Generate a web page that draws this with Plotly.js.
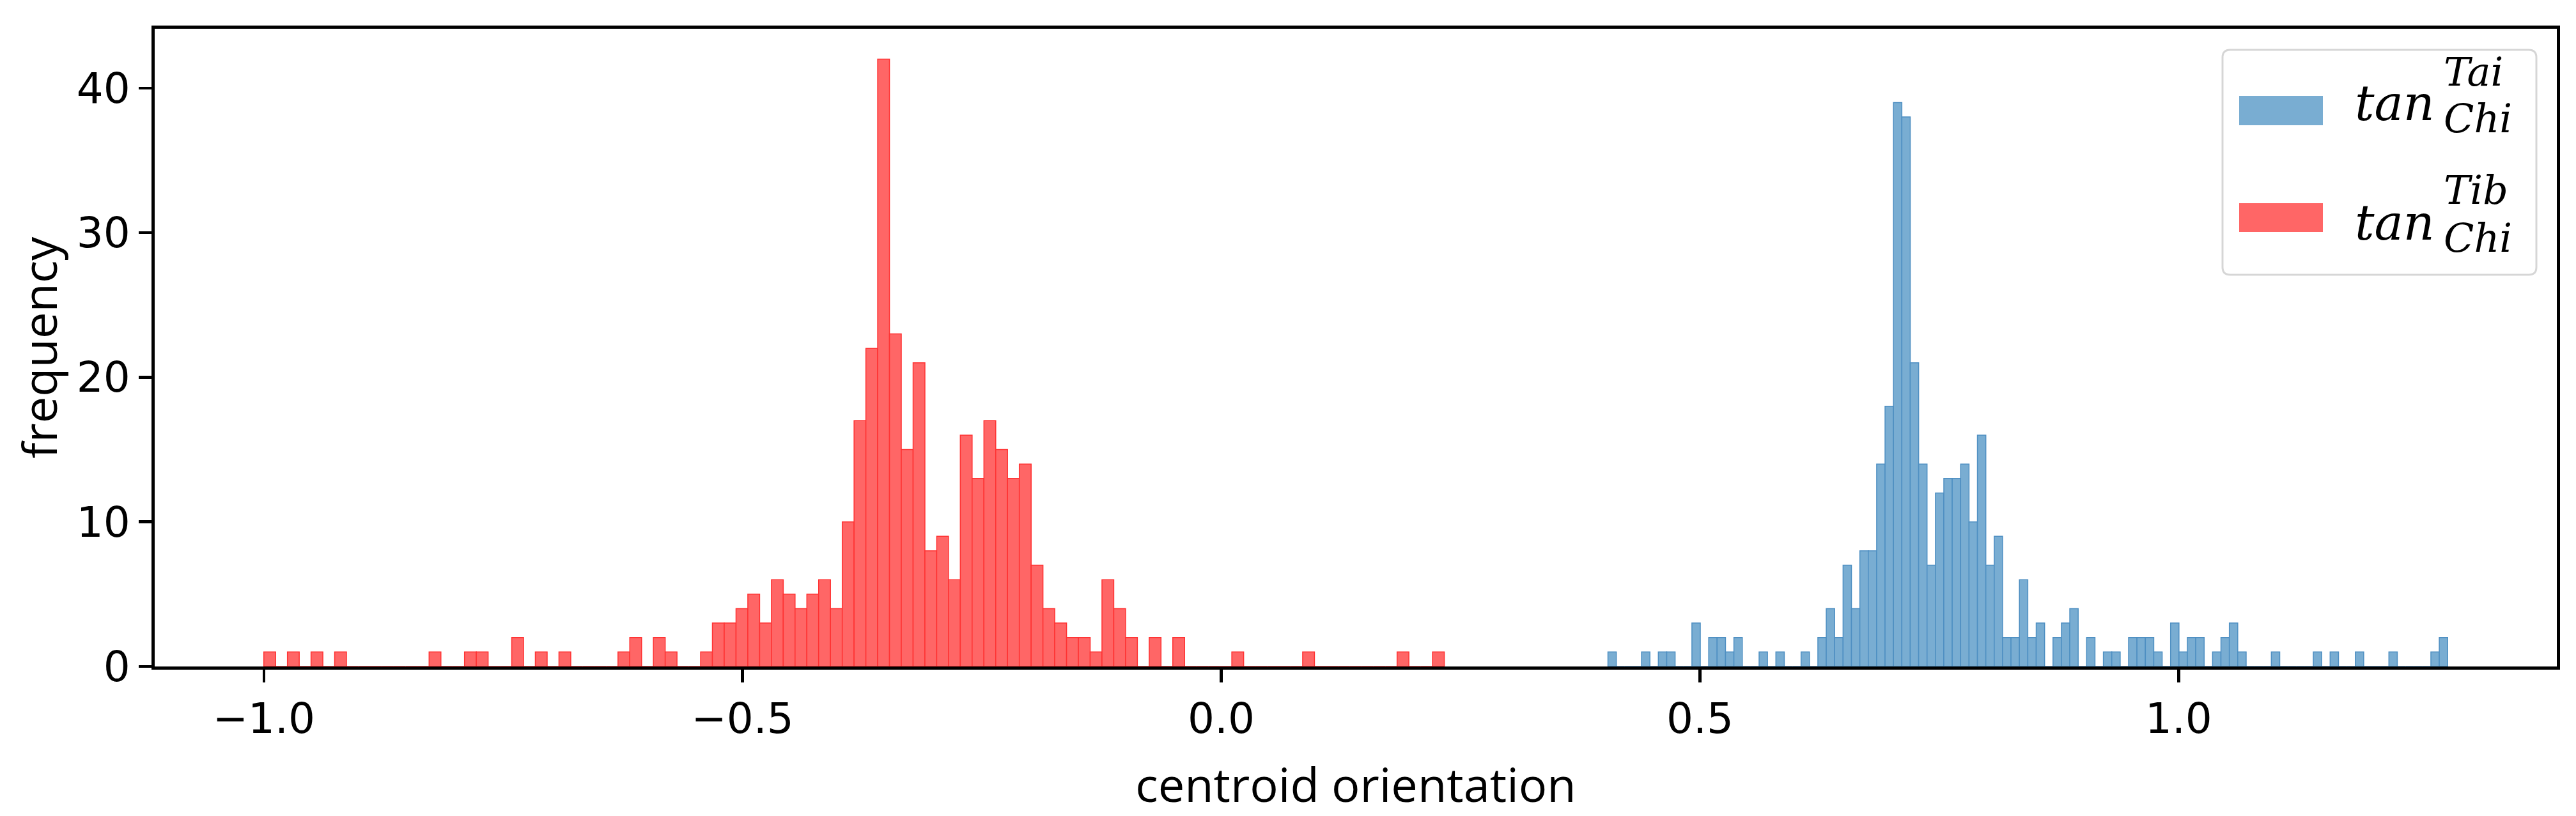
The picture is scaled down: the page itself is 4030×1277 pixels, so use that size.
<!DOCTYPE html>
<html>
<head>
<meta charset="utf-8">
<script src="https://cdn.plot.ly/plotly-3.0.1.min.js"></script>
<style>html,body{margin:0;padding:0;background:#fff;}#chart{width:4030px;height:1277px;}</style>
</head>
<body>
<div id="chart"></div>
<script>
// ---- data: histogram bin counts ----
const seriesNames = ["tan_Chi^Tai", "tan_Chi^Tib"];
// blue series (Tai): 100 equal bins between these limits
const taiRange = [0.4039, 1.2810];
const taiCounts = [1,0,0,0,1,0,1,1,0,0, 3,0,2,2,1,2,0,0,1,0,
                   1,0,0,1,0,2,4,2,7,4, 8,8,14,18,39,38,21,14,7,12,
                   13,13,14,10,16,7,9,2,2,6, 2,3,0,2,3,4,0,2,0,1,
                   1,0,2,2,2,1,0,3,1,2, 2,0,1,2,3,1,0,0,0,1,
                   0,0,0,0,1,0,1,0,0,1, 0,0,0,1,0,0,0,0,1,2];
// red series (Tib): 100 equal bins between these limits
const tibRange = [-1.0, 0.233];
const tibCounts = [1,0,1,0,1,0,1,0,0,0, 0,0,0,0,1,0,0,1,1,0,
                   0,2,0,1,0,1,0,0,0,0, 1,2,0,2,1,0,0,1,3,3,
                   4,5,3,6,5,4,5,6,4,10, 17,22,42,23,15,21,8,9,6,16,
                   13,17,15,13,14,7,4,3,2,2, 1,6,4,2,0,2,0,2,0,0,
                   0,0,1,0,0,0,0,0,1,0, 0,0,0,0,0,0,1,0,0,1];
const xTickVals = [-1.0, -0.5, 0.0, 0.5, 1.0];
const xTickText = ["\u22121.0", "\u22120.5", "0.0", "0.5", "1.0"];
const yTickVals = [0, 10, 20, 30, 40];
const xLabel = "centroid orientation";
const yLabel = "frequency";

function binCenters(range, n) {
  const w = (range[1] - range[0]) / n;
  const c = [];
  for (let i = 0; i < n; i++) c.push(range[0] + (i + 0.5) * w);
  return {c: c, w: w};
}

const tai = binCenters(taiRange, taiCounts.length);
const tib = binCenters(tibRange, tibCounts.length);

const traces = [
  {type: "bar", name: seriesNames[0], x: tai.c, y: taiCounts, width: tai.w,
   marker: {color: "rgb(121,173,210)", line: {color: "rgb(78,143,194)", width: 1.5}},
   showlegend: false, hoverinfo: "x+y"},
  {type: "bar", name: seriesNames[1], x: tib.c, y: tibCounts, width: tib.w,
   marker: {color: "rgb(255,102,102)", line: {color: "rgb(255,50,50)", width: 1.5}},
   showlegend: false, hoverinfo: "x+y"}
];

// custom legend (matplotlib style with stacked sub/superscripts)
const L = 242, R = 4000, T = 45, B = 1043;
const px = v => (v - L) / (R - L);
const py = v => (B - v) / (B - T);

function roundedBox(x0, y0, x1, y1, r) {
  const rx = r / (R - L), ry = r / (B - T);
  const X0 = px(x0), X1 = px(x1), Y0 = py(y1), Y1 = py(y0);
  return `M ${X0 + rx},${Y0} L ${X1 - rx},${Y0} Q ${X1},${Y0} ${X1},${Y0 + ry} L ${X1},${Y1 - ry} Q ${X1},${Y1} ${X1 - rx},${Y1} L ${X0 + rx},${Y1} Q ${X0},${Y1} ${X0},${Y1 - ry} L ${X0},${Y0 + ry} Q ${X0},${Y0} ${X0 + rx},${Y0} Z`;
}

const shapes = [
  {type: "path", xref: "paper", yref: "paper", path: roundedBox(3477, 78, 3968, 430, 12),
   fillcolor: "rgba(255,255,255,0.8)", line: {color: "rgba(204,204,204,0.8)", width: 3}},
  {type: "rect", xref: "paper", yref: "paper", x0: px(3503), x1: px(3634), y0: py(196), y1: py(150),
   fillcolor: "rgb(121,173,210)", line: {width: 0}},
  {type: "rect", xref: "paper", yref: "paper", x0: px(3503), x1: px(3634), y0: py(363), y1: py(318),
   fillcolor: "rgb(255,102,102)", line: {width: 0}}
];

const serif = "DejaVu Serif";
function ann(text, xPix, yPix, size) {
  return {xref: "paper", yref: "paper", x: px(xPix), y: py(yPix), xanchor: "left", yanchor: "middle",
          text: "<i>" + text + "</i>", showarrow: false, font: {family: serif, size: size, color: "#000"}, borderpad: 0};
}
const annotations = [
  ann("tan", 3683, 161, 76),
  ann("Tai", 3822, 113, 62),
  ann("Chi", 3822, 186, 62),
  ann("tan", 3683, 348, 76),
  ann("Tib", 3822, 297, 62),
  ann("Chi", 3822, 372, 62)
];

const tickFont = {family: "DejaVu Sans", size: 66, color: "#000"};
const labelFont = {family: "Open Sans", size: 74, color: "#000"};

const layout = {
  width: 4030, height: 1277,
  margin: {l: L, r: 4030 - R, t: T, b: 1277 - B, pad: 0},
  paper_bgcolor: "#fff", plot_bgcolor: "#fff",
  barmode: "overlay", bargap: 0,
  showlegend: false,
  xaxis: {
    range: [-1.114, 1.395], tickvals: xTickVals, ticktext: xTickText,
    ticks: "outside", ticklen: 20, tickwidth: 4.5, tickcolor: "#000",
    showline: true, linewidth: 5, linecolor: "#000", mirror: true,
    showgrid: false, zeroline: false, tickfont: tickFont,
    title: {text: xLabel, font: labelFont, standoff: 55}, automargin: false
  },
  yaxis: {
    range: [0, 44.1], tickvals: yTickVals,
    ticks: "outside", ticklen: 20, tickwidth: 4.5, tickcolor: "#000",
    showline: true, linewidth: 5, linecolor: "#000", mirror: true,
    showgrid: false, zeroline: false, tickfont: tickFont,
    title: {text: yLabel, font: labelFont, standoff: 7}, automargin: false
  },
  shapes: shapes,
  annotations: annotations
};

Plotly.newPlot("chart", traces, layout, {staticPlot: true, displayModeBar: false});
</script>
</body>
</html>
